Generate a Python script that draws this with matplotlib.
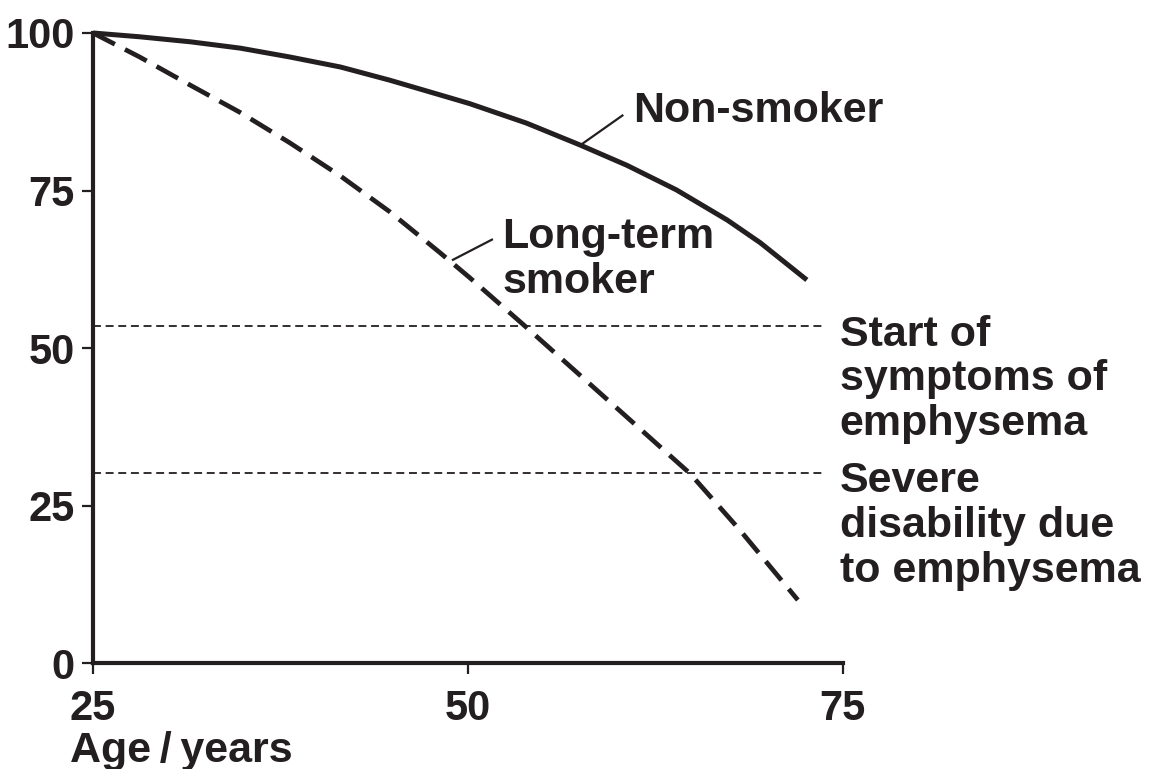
import numpy as np
import matplotlib
matplotlib.use("Agg")
import matplotlib.pyplot as plt

plt.rcParams['font.family'] = ['Liberation Sans', 'DejaVu Sans']

ink = '#231f20'

# values (age in years, lung function %)
ages_non = [25, 28.1, 31.5, 34.8, 38.1, 41.5, 44.8, 48.1, 50.1, 53.9, 57.5, 60.6, 63.9, 67.3, 69.5, 72.6]
lung_non = [100, 99.4, 98.6, 97.6, 96.2, 94.6, 92.5, 90.2, 88.8, 85.7, 82.2, 79.0, 75.1, 70.3, 66.7, 60.8]
ages_smk = [25, 28.1, 31.5, 34.8, 38.1, 41.5, 44.8, 48.1, 50.1, 53.7, 59.3, 64.8, 68.1, 72.0]
lung_smk = [100, 96.2, 91.7, 87.4, 82.6, 77.3, 71.6, 65.2, 61.2, 53.7, 41.8, 30.1, 21.2, 10.0]

thresholds = [53.5, 30.2]
threshold_labels = ["Start of\nsymptoms of\nemphysema",
                    "Severe\ndisability due\nto emphysema"]
# baseline of the last line of each label
threshold_baselines = [36.2, 12.9]
xticks = [25, 50, 75]
yticks = [0, 25, 50, 75, 100]

fs = 31

fig = plt.figure(figsize=(11.5, 7.69), dpi=100)
ax = fig.add_axes([0.0809, 0.1378, 0.652, 0.8193])

ax.plot(ages_non, lung_non, color=ink, lw=3.6, solid_capstyle='butt',
        solid_joinstyle='round', clip_on=False)
ax.plot(ages_smk, lung_smk, color=ink, lw=3.4, ls=(0, (5.2, 2.4)),
        dash_capstyle='butt', clip_on=False)

for t, lab, b in zip(thresholds, threshold_labels, threshold_baselines):
    ax.plot([25, 73.8], [t, t], color=ink, lw=1.3, ls=(0, (4.4, 2.6)), clip_on=False)
    ax.text(74.8, b, lab, ha='left', va='baseline', fontsize=fs, fontweight='bold',
            color=ink, linespacing=1.15)

# curve labels with leader lines
ax.plot([57.5, 60.3], [82.2, 86.9], color=ink, lw=1.6)
ax.text(61.0, 85.9, "Non-smoker", ha='left', va='baseline', fontsize=fs,
        fontweight='bold', color=ink)
ax.plot([49.0, 51.6], [64.0, 67.2], color=ink, lw=1.6)
ax.text(52.3, 58.7, "Long-term\nsmoker", ha='left', va='baseline', fontsize=fs,
        fontweight='bold', color=ink, linespacing=1.18)

ax.set_xlim(25, 75)
ax.set_ylim(0, 100)
ax.spines['top'].set_visible(False)
ax.spines['right'].set_visible(False)
for s in ['left', 'bottom']:
    ax.spines[s].set_linewidth(3)
    ax.spines[s].set_color(ink)
ax.set_xticks(xticks)
ax.set_yticks(yticks)
ax.tick_params(axis='both', direction='out', length=8, width=1.6, color=ink,
               labelsize=30, labelcolor=ink)
ax.tick_params(axis='x', pad=11)
ax.tick_params(axis='y', pad=5)
for lab in ax.get_xticklabels() + ax.get_yticklabels():
    lab.set_fontweight('bold')

fig.text(0.061, 0.009, "Age\u2009/\u2009years", ha='left', va='baseline', fontsize=fs,
         fontweight='bold', color=ink)

fig.savefig("out.png", dpi=100)
